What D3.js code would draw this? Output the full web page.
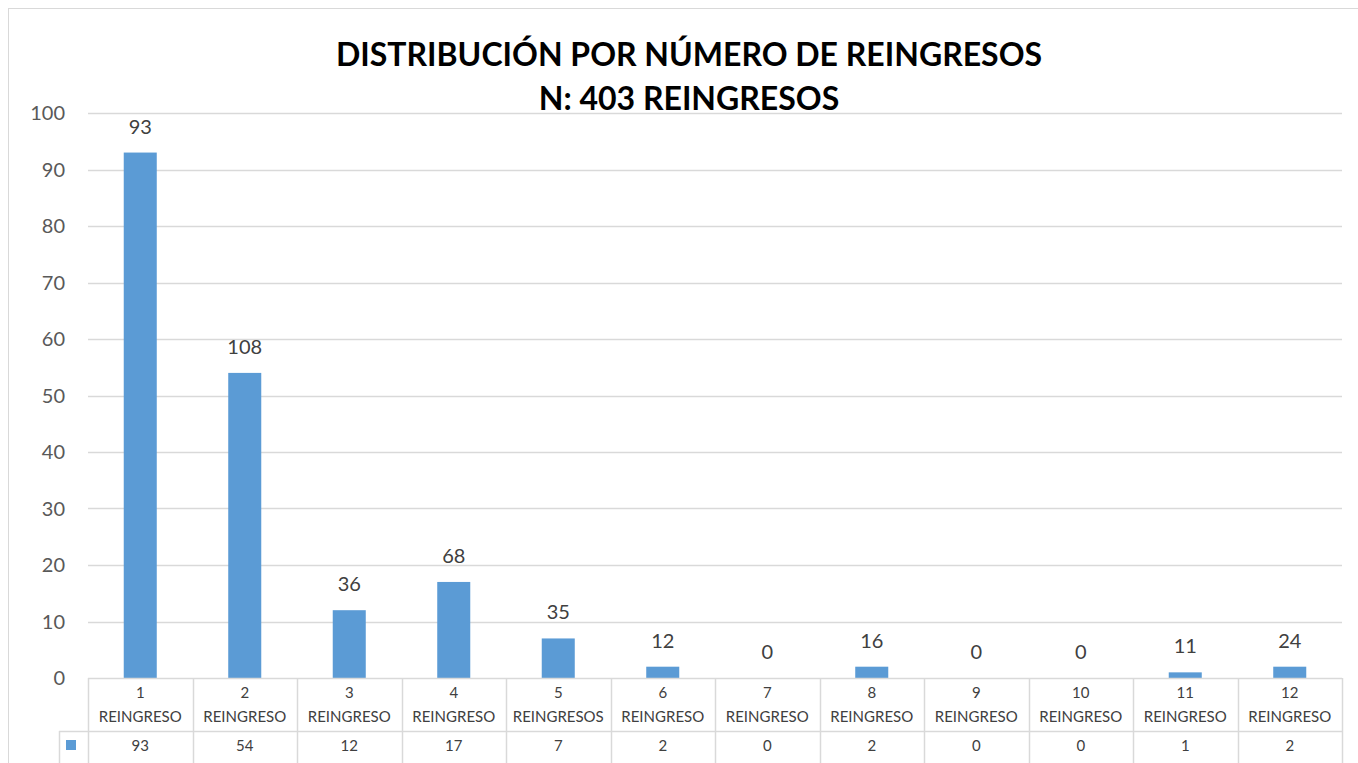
<!DOCTYPE html>
<html>
<head>
<meta charset="utf-8">
<script src="https://cdn.jsdelivr.net/npm/d3@7"></script>
<style>
  body { margin: 0; background: #fff; }
  svg { font-family: Lato, "Open Sans", sans-serif; }
</style>
</head>
<body>
<svg></svg>
<script>
// chart data
var categories = ["1 REINGRESO", "2 REINGRESO", "3 REINGRESO", "4 REINGRESO", "5 REINGRESOS", "6 REINGRESO",
                  "7 REINGRESO", "8 REINGRESO", "9 REINGRESO", "10 REINGRESO", "11 REINGRESO", "12 REINGRESO"];
var values = [93, 54, 12, 17, 7, 2, 0, 2, 0, 0, 1, 2];
var barLabels = [93, 108, 36, 68, 35, 12, 0, 16, 0, 0, 11, 24];
var yTicks = [0, 10, 20, 30, 40, 50, 60, 70, 80, 90, 100];
var titleLines = ["DISTRIBUCIÓN POR NÚMERO DE REINGRESOS", "N: 403 REINGRESOS"];

var width = 1358, height = 763;
var plotLeft = 88, plotRight = 1342, plotTop = 113, plotBottom = 678;
var rowH = 53;
var barColor = "#5b9bd5";
var gridColor = "#d9d9d9";
var textColor = "#595959";

var svg = d3.select("svg").attr("width", width).attr("height", height);

// outer chart border
svg.append("rect")
    .attr("x", 8.5).attr("y", 8.5)
    .attr("width", 1360).attr("height", 800)
    .attr("fill", "none").attr("stroke", gridColor);

var x = d3.scaleBand().domain(categories).range([plotLeft, plotRight]).paddingInner(0.684).paddingOuter(0.342);
var xCol = d3.scaleBand().domain(categories).range([plotLeft, plotRight]);
var y = d3.scaleLinear().domain([0, 100]).range([plotBottom, plotTop]);

// gridlines
svg.append("g").selectAll("line")
    .data(yTicks.filter(d => d > 0))
    .enter().append("line")
    .attr("x1", plotLeft).attr("x2", plotRight)
    .attr("y1", d => Math.round(y(d)) + 0.5).attr("y2", d => Math.round(y(d)) + 0.5)
    .attr("stroke", gridColor).attr("stroke-width", 1.5);

// y tick labels
svg.append("g").selectAll("text")
    .data(yTicks)
    .enter().append("text")
    .attr("x", 65).attr("y", d => y(d))
    .attr("dy", "0.35em")
    .attr("text-anchor", "end")
    .attr("fill", textColor)
    .style("font-size", "20px")
    .text(d => d);

// bars
svg.append("g").selectAll("rect")
    .data(values)
    .enter().append("rect")
    .attr("x", (d, i) => x(categories[i]))
    .attr("width", x.bandwidth())
    .attr("y", d => y(d))
    .attr("height", d => plotBottom - y(d))
    .attr("fill", barColor);

// labels above bars
svg.append("g").selectAll("text")
    .data(barLabels)
    .enter().append("text")
    .attr("x", (d, i) => xCol(categories[i]) + xCol.bandwidth() / 2)
    .attr("y", (d, i) => y(values[i]) - 26)
    .attr("dy", "0.35em")
    .attr("text-anchor", "middle")
    .attr("fill", "#404040")
    .style("font-size", "20px")
    .text(d => d);

// data table
var table = svg.append("g").attr("stroke", gridColor).attr("stroke-width", 1.5);
table.append("line").attr("x1", plotLeft).attr("x2", plotRight).attr("y1", plotBottom + 0.5).attr("y2", plotBottom + 0.5);
table.append("line").attr("x1", 59).attr("x2", plotRight).attr("y1", plotBottom + rowH + 0.5).attr("y2", plotBottom + rowH + 0.5);
table.append("line").attr("x1", 59.5).attr("x2", 59.5).attr("y1", plotBottom + rowH).attr("y2", height);
table.selectAll(".col")
    .data(categories.concat(["end"]))
    .enter().append("line")
    .attr("x1", (d, i) => Math.round(plotLeft + i * xCol.bandwidth()) + 0.5)
    .attr("x2", (d, i) => Math.round(plotLeft + i * xCol.bandwidth()) + 0.5)
    .attr("y1", plotBottom).attr("y2", height);

// category labels (two lines)
var catText = svg.append("g").selectAll("text")
    .data(categories)
    .enter().append("text")
    .attr("text-anchor", "middle")
    .attr("fill", "#404040")
    .style("font-size", "15px");
catText.append("tspan")
    .attr("x", d => xCol(d) + xCol.bandwidth() / 2)
    .attr("y", plotBottom + 20)
    .text(d => d.split(" ")[0]);
catText.append("tspan")
    .attr("x", d => xCol(d) + xCol.bandwidth() / 2)
    .attr("y", plotBottom + 44)
    .text(d => d.split(" ")[1]);

// value row
svg.append("g").selectAll("text")
    .data(values)
    .enter().append("text")
    .attr("x", (d, i) => xCol(categories[i]) + xCol.bandwidth() / 2)
    .attr("y", plotBottom + rowH + 20)
    .attr("text-anchor", "middle")
    .attr("fill", "#404040")
    .style("font-size", "15px")
    .text(d => d);

// legend key
svg.append("rect")
    .attr("x", 66).attr("y", 740)
    .attr("width", 10).attr("height", 10)
    .attr("fill", barColor);

// title
svg.append("g").selectAll("text")
    .data(titleLines)
    .enter().append("text")
    .attr("x", 689)
    .attr("y", (d, i) => 66 + i * 44)
    .attr("text-anchor", "middle")
    .attr("fill", "#000")
    .style("font-size", "32px")
    .style("font-weight", "bold")
    .text(d => d);
</script>
</body>
</html>
